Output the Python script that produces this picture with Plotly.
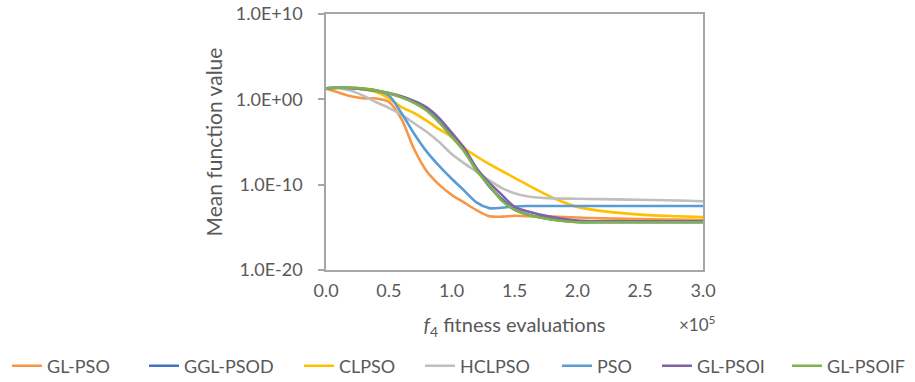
import plotly.graph_objects as go

evals = [0, 0.1, 0.2, 0.3, 0.4, 0.5, 0.6, 0.7, 0.8, 0.9, 1.0, 1.1, 1.2, 1.3, 1.4, 1.5,
         1.6, 1.8, 2.0, 2.2, 2.4, 2.6, 2.8, 3.0]

gl_pso = [1.78e1, 6.3e0, 2.24e0, 1.3e0, 1.26e0, 5.0e-1, 5.0e-3, 1.6e-6, 4.0e-9, 1.0e-10,
          6.3e-12, 7.9e-13, 1.0e-13, 2.0e-14, 1.78e-14, 2.24e-14, 2.0e-14, 1.78e-14,
          1.41e-14, 1.12e-14, 1.0e-14, 8.9e-15, 7.9e-15, 7.1e-15]
ggl_psod = [2.0e1, 2.24e1, 2.24e1, 1.7e1, 1.1e1, 5.2e0, 1.9e0, 4.5e-1, 6.0e-2, 2.5e-3,
            6.0e-5, 9.0e-7, 6.0e-9, 6.0e-11, 2.0e-12, 1.2e-13, 3.5e-14, 8.5e-15,
            4.2e-15, 4.1e-15, 4.1e-15, 4.1e-15, 4.1e-15, 4.1e-15]
clpso = [2.0e1, 2.24e1, 2.0e1, 1.41e1, 7.1e0, 1.26e0, 1.26e-1, 2.5e-2, 3.16e-3, 3.16e-4,
         4.0e-5, 2.0e-6, 2.0e-7, 2.5e-8, 4.0e-9, 6.3e-10, 1.0e-10, 3.16e-12, 2.5e-13,
         7.9e-14, 4.0e-14, 2.5e-14, 2.0e-14, 1.58e-14]
hclpso = [2.0e1, 2.0e1, 1.0e1, 2.5e0, 4.5e-1, 1.0e-1, 1.58e-2, 1.58e-3, 1.58e-4, 1.0e-5,
          4.0e-7, 3.16e-8, 3.16e-9, 3.16e-10, 4.0e-11, 1.0e-11, 4.5e-12, 2.5e-12,
          2.24e-12, 2.0e-12, 1.78e-12, 1.58e-12, 1.41e-12, 1.12e-12]
pso = [2.0e1, 2.24e1, 2.0e1, 1.58e1, 1.0e1, 2.8e0, 2.5e-2, 1.0e-4, 7.9e-7, 1.58e-8,
       5.0e-10, 2.0e-11, 7.9e-13, 1.78e-13, 2.0e-13, 2.8e-13, 3.16e-13, 3.16e-13,
       3.16e-13, 3.16e-13, 3.16e-13, 3.16e-13, 3.16e-13, 3.16e-13]
gl_psoi = [2.0e1, 2.24e1, 2.0e1, 1.58e1, 1.0e1, 5.6e0, 2.24e0, 6.3e-1, 1.12e-1, 6.3e-3,
           1.26e-4, 2.0e-6, 7.9e-9, 1.58e-10, 6.3e-12, 2.5e-13, 7.9e-14, 1.58e-14,
           6.3e-15, 5.0e-15, 5.0e-15, 5.0e-15, 5.0e-15, 5.0e-15]
gl_psoif = [2.0e1, 2.24e1, 2.24e1, 1.78e1, 1.12e1, 5.0e0, 1.78e0, 4.0e-1, 5.0e-2, 2.0e-3,
            4.0e-5, 7.9e-7, 4.0e-9, 7.9e-11, 1.26e-12, 1.12e-13, 3.16e-14, 7.9e-15,
            4.0e-15, 4.0e-15, 4.0e-15, 4.0e-15, 4.0e-15, 4.0e-15]

series_names = ["GL-PSO", "GGL-PSOD", "CLPSO", "HCLPSO", "PSO", "GL-PSOI", "GL-PSOIF"]
series_values = [gl_pso, ggl_psod, clpso, hclpso, pso, gl_psoi, gl_psoif]
colors = ["#F79646", "#4472C4", "#FFC000", "#BFBFBF", "#5B9BD5", "#8064A2", "#7FB24A"]

y_tickvals = [1e10, 1e0, 1e-10, 1e-20]
y_ticktext = ["1.0E+10", "1.0E+00", "1.0E-10", "1.0E-20"]

# legend left positions in pixels (figure coords)
legend_px = [5, 142, 297, 418, 555, 655, 785]

FONT = "Lato"
GRAY = "#595959"

PL, PR, PT, PB = 326, 703, 14, 270
W, H = 915, 382

fig = go.Figure()
legend_layouts = {}
for i, (name, vals, col) in enumerate(zip(series_names, series_values, colors)):
    lname = f"legend{i+2}"
    fig.add_trace(go.Scatter(
        x=evals, y=vals, name=name, mode="lines",
        line=dict(color=col, width=2.6, shape="spline", smoothing=0.8),
        legend=lname,
    ))
    legend_layouts[lname] = dict(
        x=(legend_px[i] + 2 - PL) / (PR - PL), xanchor="left",
        y=(PB - 366) / (PB - PT), yanchor="middle",
        orientation="h", bgcolor="rgba(0,0,0,0)",
        font=dict(family=FONT, size=18, color=GRAY),
        itemwidth=30,
    )

fig.update_layout(
    width=W, height=H,
    margin=dict(l=PL, r=W - PR, t=PT, b=H - PB, autoexpand=False),
    paper_bgcolor="white", plot_bgcolor="white",
    font=dict(family=FONT, size=18, color=GRAY),
    **legend_layouts,
)

fig.update_xaxes(
    range=[0, 3], dtick=0.5, tick0=0, tickformat=".1f",
    showgrid=False, zeroline=False,
    showline=True, linecolor="#A6A6A6", linewidth=1.5, mirror=True,
    ticks="", ticklabelstandoff=4,
    tickfont=dict(family=FONT, size=18, color=GRAY),
    title=dict(text="<i>f</i><sub>4</sub> fitness evaluations",
               font=dict(family=FONT, size=20, color=GRAY), standoff=18),
)
fig.update_yaxes(
    type="log", range=[-20, 10],
    tickvals=y_tickvals, ticktext=y_ticktext,
    showgrid=False, zeroline=False,
    showline=True, linecolor="#A6A6A6", linewidth=1.5, mirror=True,
    ticks="outside", ticklen=6, tickcolor="#A6A6A6", tickwidth=1.5,
    ticklabelstandoff=12,
    tickfont=dict(family=FONT, size=18, color=GRAY),
    title=dict(text="Mean function value",
               font=dict(family=FONT, size=21, color=GRAY), standoff=7),
)

fig.add_annotation(
    text="×10<sup>5</sup>", xref="paper", yref="paper",
    x=(697 - PL) / (PR - PL), y=(PB - 323) / (PB - PT),
    xanchor="center", yanchor="middle", showarrow=False,
    font=dict(family=FONT, size=17, color=GRAY),
)

fig.write_html("out.html", config={"displayModeBar": False},
               post_script="document.body.style.margin='0px';")
